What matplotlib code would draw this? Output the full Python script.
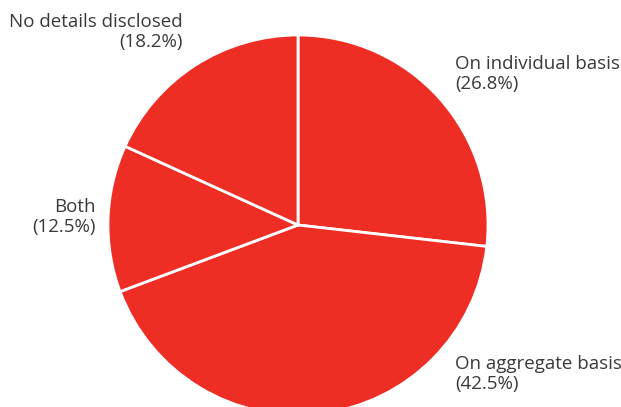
import matplotlib
matplotlib.use('Agg')
from matplotlib import pyplot as plt

categories = ['On individual basis', 'On aggregate basis', 'Both', 'No details disclosed']
values = [26.8, 42.5, 12.5, 18.2]

# label placement (pixels from top-left), alignment
label_pos = [(455, 74, 'left'), (455, 374, 'left'), (96, 217, 'right'), (183, 32, 'right')]

W, H = 621, 407
fig = plt.figure(figsize=(W / 100, H / 100), dpi=100)
ax = fig.add_axes([0, 0, 1, 1])

ax.pie(values,
       center=(298, H - 225),
       radius=190,
       startangle=90,
       counterclock=False,
       colors=['#EE2E24'] * len(values),
       wedgeprops={'edgecolor': 'white', 'linewidth': 2},
       frame=True)
ax.set_xlim(0, W)
ax.set_ylim(0, H)
ax.axis('off')

for cat, val, (x, y, ha) in zip(categories, values, label_pos):
    ax.text(x, H - y, f'{cat}\n({val}%)', ha=ha, va='center',
            fontsize=13.5, color='#3a3a3a', family='Open Sans', linespacing=1.12,
            multialignment=ha)

fig.savefig('out.png', dpi=100)
